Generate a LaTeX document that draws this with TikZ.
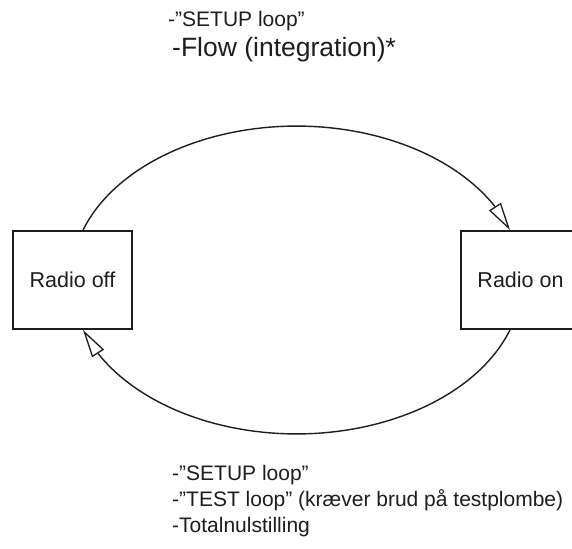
\documentclass[tikz,border=0pt]{standalone}
\usepackage{fontspec}
\setmainfont{Liberation Sans}
\usetikzlibrary{arrows.meta,bending}
\definecolor{ink}{HTML}{1E1E1E}
\tikzset{
  statebox/.style={draw=ink, line width=1.8bp, minimum width=119bp, minimum height=98bp, inner sep=0pt, font=\fontsize{21.5bp}{26bp}\selectfont, text=ink},
  loopline/.style={draw=ink, line width=1.4bp, -{Triangle[open, flex, length=28bp, width=14bp, line width=1.3bp]}},
  lbl/.style={anchor=base west, inner sep=0pt, text=ink},
  lblsmall/.style={lbl, font=\fontsize{21bp}{26bp}\selectfont},
  lblbig/.style={lbl, font=\fontsize{26.5bp}{31bp}\selectfont}
}
\begin{document}
\begin{tikzpicture}[x=1bp, y=-1bp]
\useasboundingbox (0,0) rectangle (572,549);
\clip (0,0) rectangle (572,549);
\fill[white] (0,0) rectangle (572,549);
\node[statebox] (off) at (72.5,280) {Radio off};
\node[statebox] (on) at (520.5,280) {Radio on};
\coordinate (offtop) at ([xshift=10.5bp]off.north);
\coordinate (offbot) at ([xshift=10.5bp]off.south);
\coordinate (ontop) at ([xshift=-10.5bp]on.north);
\coordinate (onbot) at ([xshift=-10.5bp]on.south);
\draw[loopline] (offtop) arc[start angle=198.68, end angle=341.32, x radius=225.4, y radius=153];
\draw[loopline] (onbot) arc[start angle=18.68, end angle=161.32, x radius=225.4, y radius=153];
\node[lblsmall] (t1) at (168,27) {-”SETUP loop”};
\node[lblbig] (t2) at (172,57) {-Flow (integration)*};
\node[lblsmall] (b1) at (172,480) {-”SETUP loop”};
\node[lblsmall] (b2) at (172,506) {-”TEST loop” (kræver brud på testplombe)};
\node[lblsmall] (b3) at (172,532) {-Totalnulstilling};
\end{tikzpicture}
\end{document}
